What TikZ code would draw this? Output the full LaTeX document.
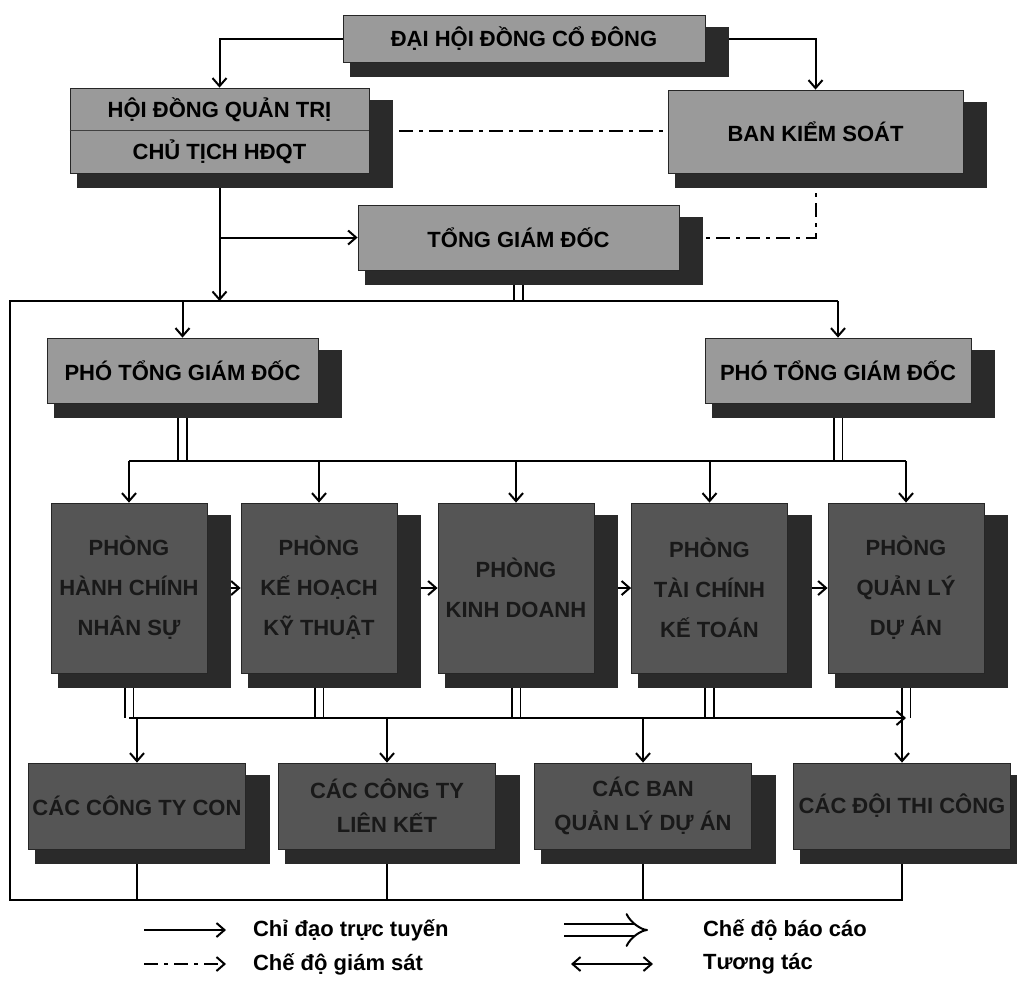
\documentclass[tikz,border=0pt]{standalone}
\usepackage{fontspec}
\setmainfont{Liberation Sans}
\usetikzlibrary{arrows.meta,calc}
\pgfdeclarelayer{lines}
\pgfdeclarelayer{shade}
\pgfsetlayers{lines,shade,main}

\definecolor{boxlight}{HTML}{9A9A9A}
\definecolor{boxdark}{HTML}{555555}
\definecolor{shadowgray}{HTML}{2A2A2A}

\tikzset{
  upperbox/.style={draw=black!85, fill=boxlight, align=center, inner sep=0pt,
    font=\bfseries\fontsize{11}{13}\selectfont},
  lowerbox/.style={draw=black!85, fill=boxdark, text=black!90, align=center, inner sep=0pt,
    font=\bfseries\fontsize{11}{20}\selectfont},
  legendtext/.style={anchor=west, font=\bfseries\fontsize{11}{12}\selectfont},
  direct/.style={-{Straight Barb[length=4pt,width=7pt]}, line width=1pt},
  watch/.style={line width=1pt, dash pattern=on 7pt off 3pt on 2pt off 3pt},
  report/.style={double, double distance=3.5pt, line width=0.9pt},
  plain/.style={line width=1pt},
}

\begin{document}
\begin{tikzpicture}[x=0.5pt,y=-0.5pt]
    \useasboundingbox (0,0) rectangle (1017,981);

    % upper boxes
    \node[upperbox, minimum width=181pt, minimum height=23.5pt] (dhdcd) at (524,38.5) {ĐẠI HỘI ĐỒNG CỔ ĐÔNG};
    \node[upperbox, minimum width=149.5pt, minimum height=42.5pt,
          font=\bfseries\fontsize{11}{21}\selectfont] (hdqt) at (219.5,130.5) {HỘI ĐỒNG QUẢN TRỊ\\CHỦ TỊCH HĐQT};
    \draw[line width=0.6pt, black!75] (hdqt.west) -- (hdqt.east);
    \node[upperbox, minimum width=147.5pt, minimum height=41.5pt] (bks) at (815.5,131.5) {BAN KIỂM SOÁT};
    \node[upperbox, minimum width=160.5pt, minimum height=32.5pt] (tgd) at (518.5,237.5) {TỔNG GIÁM ĐỐC};
    \node[upperbox, minimum width=135.5pt, minimum height=32.5pt] (ptgdA) at (182.5,370.5) {PHÓ TỔNG GIÁM ĐỐC};
    \node[upperbox, minimum width=133pt, minimum height=32.5pt] (ptgdB) at (838,370.5) {PHÓ TỔNG GIÁM ĐỐC};

    % departments
    \foreach \n/\x/\t in {ph1/129/{PHÒNG\\HÀNH CHÍNH\\NHÂN SỰ}, ph2/319/{PHÒNG\\KẾ HOẠCH\\KỸ THUẬT},
                          ph3/516/{PHÒNG\\KINH DOANH}, ph4/709.5/{PHÒNG\\TÀI CHÍNH\\KẾ TOÁN},
                          ph5/906/{PHÒNG\\QUẢN LÝ\\DỰ ÁN}} {
        \node[lowerbox, minimum width=78pt, minimum height=85pt] (\n) at (\x,588) {\t};
    }

    % units
    \foreach \n/\x/\t in {cc1/137/{CÁC CÔNG TY CON}, cc2/387/{CÁC CÔNG TY\\LIÊN KẾT},
                          cc3/643/{CÁC BAN\\QUẢN LÝ DỰ ÁN}, cc4/902/{CÁC ĐỘI THI CÔNG}} {
        \node[lowerbox, minimum width=108.5pt, minimum height=43pt,
              font=\bfseries\fontsize{11}{17}\selectfont] (\n) at (\x,806) {\t};
    }

    % shadows
    \begin{pgfonlayer}{shade}
        \foreach \n in {dhdcd,hdqt,bks,tgd,ptgdA,ptgdB,ph1,ph2,ph3,ph4,ph5,cc1,cc2,cc3,cc4} {
            \fill[shadowgray] ($(\n.north west)+(7,12)$) rectangle ($(\n.south east)+(24,15)$);
        }
    \end{pgfonlayer}

    % connectors
    \begin{pgfonlayer}{lines}
        \coordinate (busL) at (10,301);
        \coordinate (busB) at (10,900);
        \coordinate (busM) at (0,461);
        \coordinate (busD) at (0,718);

        \draw[direct] (dhdcd.west) -| (hdqt.north);
        \draw[direct] (dhdcd.east) -| (bks.north);
        \draw[watch] (hdqt.east) -- (hdqt.east -| bks.west);
        \draw[watch] (bks.south) |- (tgd.east);

        \draw[direct] (hdqt.south) -- (hdqt.south |- busL);
        \draw[direct] (hdqt.south |- tgd.west) -- (tgd.west);
        \draw[report] (tgd.south) -- (tgd.south |- busL);

        % outer frame
        \draw[plain] (ptgdB.north |- busL) -- (busL) -- (busB) -| (cc4.south);
        \draw[direct] (ptgdA.north |- busL) -- (ptgdA.north);
        \draw[direct] (ptgdB.north |- busL) -- (ptgdB.north);

        % to departments
        \draw[report] (ptgdA.south) -- (ptgdA.south |- busM);
        \draw[report] (ptgdB.south) -- (ptgdB.south |- busM);
        \draw[plain] (ph1.north |- busM) -- (ph5.north |- busM);
        \foreach \n in {ph1,ph2,ph3,ph4,ph5} {
            \draw[direct] (\n.north |- busM) -- (\n.north);
            \draw[report] (\n.south) -- (\n.south |- busD);
        }
        \foreach \a/\b in {ph1/ph2,ph2/ph3,ph3/ph4,ph4/ph5} {
            \draw[direct] (\a.east) -- (\b.west);
        }

        % to units
        \draw[direct] (ph1.south |- busD) -- (ph5.south |- busD);
        \foreach \n in {cc1,cc2,cc3,cc4} {
            \draw[direct] (\n.north |- busD) -- (\n.north);
        }
        \foreach \n in {cc1,cc2,cc3} {
            \draw[plain] (\n.south) -- (\n.south |- busB);
        }
    \end{pgfonlayer}

    % legend
    \coordinate (lgA1) at (144,930);
    \coordinate (lgA2) at (226,930);
    \coordinate (lgB1) at (144,964);
    \coordinate (lgB2) at (226,964);
    \coordinate (lgC1) at (564,930);
    \coordinate (lgC2) at (648,930);
    \coordinate (lgD1) at (571,964);
    \coordinate (lgD2) at (653,964);
    \draw[direct] (lgA1) -- (lgA2);
    \draw[watch, -{Straight Barb[length=4pt,width=7pt]}] (lgB1) -- (lgB2);
    \draw[double, double distance=5pt, line width=1pt, -{Implies}] (lgC1) -- (lgC2);
    \draw[line width=1pt, {Straight Barb[length=4pt,width=7pt]}-{Straight Barb[length=4pt,width=7pt]}] (lgD1) -- (lgD2);
    \node[legendtext] (lgAt) at (246,930) {Chỉ đạo trực tuyến};
    \node[legendtext] (lgBt) at (246,964) {Chế độ giám sát};
    \node[legendtext] (lgCt) at (696,930) {Chế độ báo cáo};
    \node[legendtext] (lgDt) at (696,964) {Tương tác};
\end{tikzpicture}
\end{document}
